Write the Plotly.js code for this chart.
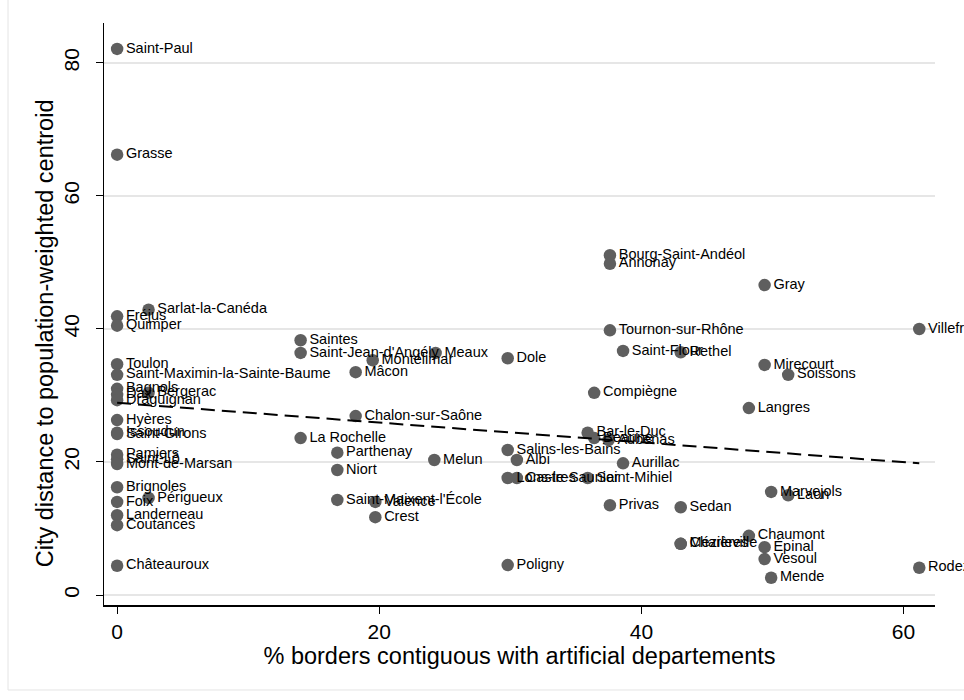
<!DOCTYPE html>
<html>
<head>
<meta charset="utf-8">
<script src="https://cdn.plot.ly/plotly-3.0.1.min.js"></script>
<style>html,body{margin:0;padding:0;background:#fff;}#chart{width:964px;height:700px;}</style>
</head>
<body>
<div id="chart"></div>
<script>
const cities = [
  "Saint-Paul","Grasse","Fréjus","Quimper","Toulon","Saint-Maximin-la-Sainte-Baume",
  "Bagnols","Dax","Draguignan","Bergerac","Hyères","Issoudun","Saint-Girons",
  "Pamiers","Saint-Lô","Mont-de-Marsan","Brignoles","Foix","Périgueux","Landerneau",
  "Coutances","Châteauroux","Sarlat-la-Canéda","Saintes","Saint-Jean-d'Angély",
  "Montélimar","Meaux","Mâcon","Dole","Chalon-sur-Saône","La Rochelle","Parthenay",
  "Niort","Melun","Saint-Maixent-l'École","Valence","Crest","Salins-les-Bains","Albi",
  "Lons-le-Saunier","Castres","Saint-Mihiel","Poligny","Bourg-Saint-Andéol","Annonay",
  "Gray","Tournon-sur-Rhône","Villefranche","Saint-Flour","Rethel","Mirecourt",
  "Soissons","Compiègne","Langres","Bar-le-Duc","Beaune","Aubenas","Aurillac","Privas",
  "Sedan","Marvejols","Laon","Chaumont","Épinal","Vesoul","Mende","Rodez",
  "Mézières","Charleville"
];
const pctBorders = [
  0,0,0,0,0,0,
  0,0,0,2.4,0,0,0,
  0,0,0,0,0,2.4,0,
  0,0,2.4,14.0,14.0,
  19.5,24.3,18.2,29.8,18.2,14.0,16.8,
  16.8,24.2,16.8,19.7,19.7,29.8,30.5,
  29.8,30.5,35.9,29.8,37.6,37.6,
  49.4,37.6,61.2,38.6,43.0,49.4,
  51.2,36.4,48.2,35.9,36.4,37.5,38.6,37.6,
  43.0,49.9,51.2,48.2,49.4,49.4,49.9,61.2,
  43.0,43.0
];
const distCentroid = [
  82.1,66.2,41.9,40.5,34.7,33.1,
  31.0,30.1,29.3,30.4,26.3,24.4,24.2,
  21.1,20.4,19.7,16.2,14.0,14.6,12.0,
  10.5,4.4,42.9,38.3,36.4,
  35.3,36.4,33.5,35.6,26.9,23.6,21.4,
  18.8,20.3,14.3,14.0,11.7,21.8,20.3,
  17.6,17.6,17.6,4.5,51.1,49.8,
  46.6,39.8,40.0,36.7,36.5,34.6,
  33.1,30.4,28.1,24.4,23.6,23.3,19.8,13.5,
  13.2,15.5,15.0,8.9,7.2,5.4,2.6,4.1,
  7.7,7.7
];
// fitted line endpoints
const fitX = [0, 61.2];
const fitY = [28.9, 19.8];
const yTicks = [0, 20, 40, 60, 80];
const xTicks = [0, 20, 40, 60];

const FONT = "Liberation Sans, Arial, sans-serif";

const traces = [
  {
    x: pctBorders, y: distCentroid, text: cities,
    type: "scatter", mode: "markers+text",
    textposition: "middle right",
    textfont: {family: FONT, size: 14.5, color: "#000"},
    marker: {size: 12.5, color: "#5f5f5f"},
    cliponaxis: false,
    hoverinfo: "x+y+text", showlegend: false
  },
  {
    x: fitX, y: fitY, type: "scatter", mode: "lines",
    line: {color: "#000", width: 2, dash: "14px,7px"},
    showlegend: false, hoverinfo: "skip"
  }
];

const layout = {
  width: 964, height: 700,
  paper_bgcolor: "#fff", plot_bgcolor: "#fff",
  margin: {l: 104, r: 29, t: 23, b: 95},
  font: {family: FONT, color: "#000"},
  showlegend: false,
  xaxis: {
    range: [-1.0, 62.4], tickvals: xTicks, ticktext: xTicks.map(String),
    showgrid: false, zeroline: false,
    showline: true, linecolor: "#000", linewidth: 1.5,
    ticks: "outside", ticklen: 7, tickcolor: "#000", tickwidth: 1,
    tickfont: {family: FONT, size: 21, color: "#000"},
    title: {text: "% borders contiguous with artificial departements",
            font: {family: FONT, size: 23.5, color: "#000"}, standoff: 4}
  },
  yaxis: {
    range: [-1.5, 86.0], tickvals: yTicks, ticktext: yTicks.map(String),
    showgrid: true, gridcolor: "#e6e6e6", gridwidth: 1.5, zeroline: false,
    showline: true, linecolor: "#000", linewidth: 1.5,
    ticks: "outside", ticklen: 7, tickcolor: "#000", tickwidth: 1,
    tickangle: -90, ticklabelstandoff: 8,
    tickfont: {family: FONT, size: 21, color: "#000"}
  },
  annotations: [{
    text: "City distance to population-weighted centroid",
    xref: "paper", yref: "paper", x: -0.071, y: 0.467,
    xanchor: "center", yanchor: "middle", textangle: -90, showarrow: false,
    font: {family: FONT, size: 23.5, color: "#000"}
  }],
  shapes: [{
    type: "rect", xref: "paper", yref: "paper",
    x0: -0.1155, x1: 1.05, y0: -0.146, y1: 1.05,
    line: {color: "#e4e4e4", width: 1}, fillcolor: "rgba(0,0,0,0)", layer: "below"
  }]
};

Plotly.newPlot("chart", traces, layout, {staticPlot: true, displayModeBar: false});
</script>
</body>
</html>
